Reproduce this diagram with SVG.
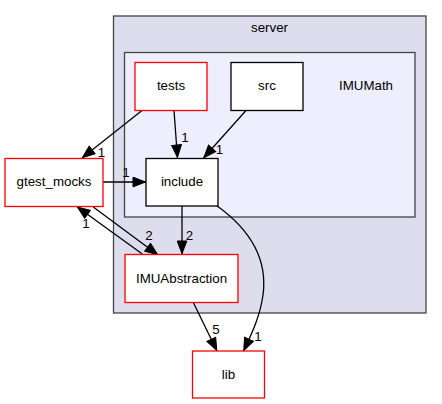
<svg xmlns="http://www.w3.org/2000/svg" width="442" height="404" viewBox="0 0 442 404">
<defs>
<style>
text{font-family:"Liberation Sans",Arial,Helvetica,sans-serif;font-size:13.33px;fill:#000;text-anchor:middle}
.c1{fill:#ddddee;stroke:#444444;stroke-width:1.3}
.c2{fill:#eeeeff;stroke:#444444;stroke-width:1.3}
.nr{fill:#ffffff;stroke:#ff0000;stroke-width:1.3}
.nb{fill:#ffffff;stroke:#000000;stroke-width:1.3}
.e{fill:none;stroke:#000;stroke-width:1.3;marker-end:url(#ah)}
</style>
<marker id="ah" markerUnits="userSpaceOnUse" markerWidth="14" markerHeight="11" viewBox="0 -5.5 13.5 11" refX="13.5" refY="0" orient="auto">
<path d="M0.5,-4.9 L13,0 L0.5,4.9 z" fill="#000" stroke="#000" stroke-width="1"/>
</marker>
</defs>
<rect width="442" height="404" fill="#ffffff"/>
<g id="cluster_server">
<rect class="c1" x="113.5" y="16" width="312.5" height="297"/>
<text x="269.5" y="31.5">server</text>
</g>
<g id="cluster_IMUMath">
<rect class="c2" x="124.5" y="52.5" width="290.5" height="164.5"/>
<text x="366" y="90">IMUMath</text>
</g>
<g id="connectors">
<path class="e" d="M142,110.5 L82,158"/>
<text x="101.5" y="156.5">1</text>
<path class="e" d="M174,110.5 L177.5,158"/>
<text x="185" y="141.5">1</text>
<path class="e" d="M246,110.5 L203.5,158"/>
<text x="219.5" y="153.5">1</text>
<path class="e" d="M103,182 L146,182"/>
<text x="126" y="177">1</text>
<path class="e" d="M93.3,207 L158,255"/>
<text x="149" y="239.5">2</text>
<path class="e" d="M142.3,254 L77,206.7"/>
<text x="86" y="227.5">1</text>
<path class="e" d="M182,206 L182,254"/>
<text x="189.5" y="239.5">2</text>
<path class="e" d="M193.3,302.5 L217,351"/>
<text x="216" y="334">5</text>
<path class="e" d="M216.5,205.5 C248,228 268,258 263,295 C260,317 251,335 243.5,351"/>
<text x="258" y="340.5">1</text>
</g>
<g id="node_tests">
<rect class="nr" x="135" y="62.5" width="72" height="48"/>
<text x="171" y="90">tests</text>
</g>
<g id="node_src">
<rect class="nb" x="231" y="62.5" width="72" height="48"/>
<text x="267" y="90">src</text>
</g>
<g id="node_include">
<rect class="nb" x="146" y="158.5" width="72" height="47.5"/>
<text x="182" y="186">include</text>
</g>
<g id="node_gtest_mocks">
<rect class="nr" x="5" y="158.5" width="98" height="48"/>
<text x="54" y="186">gtest_mocks</text>
</g>
<g id="node_IMUAbstraction">
<rect class="nr" x="125" y="254.5" width="113" height="48"/>
<text x="181.5" y="282.5">IMUAbstraction</text>
</g>
<g id="node_lib">
<rect class="nr" x="192.5" y="351" width="72" height="47"/>
<text x="228.5" y="379">lib</text>
</g>
</svg>
